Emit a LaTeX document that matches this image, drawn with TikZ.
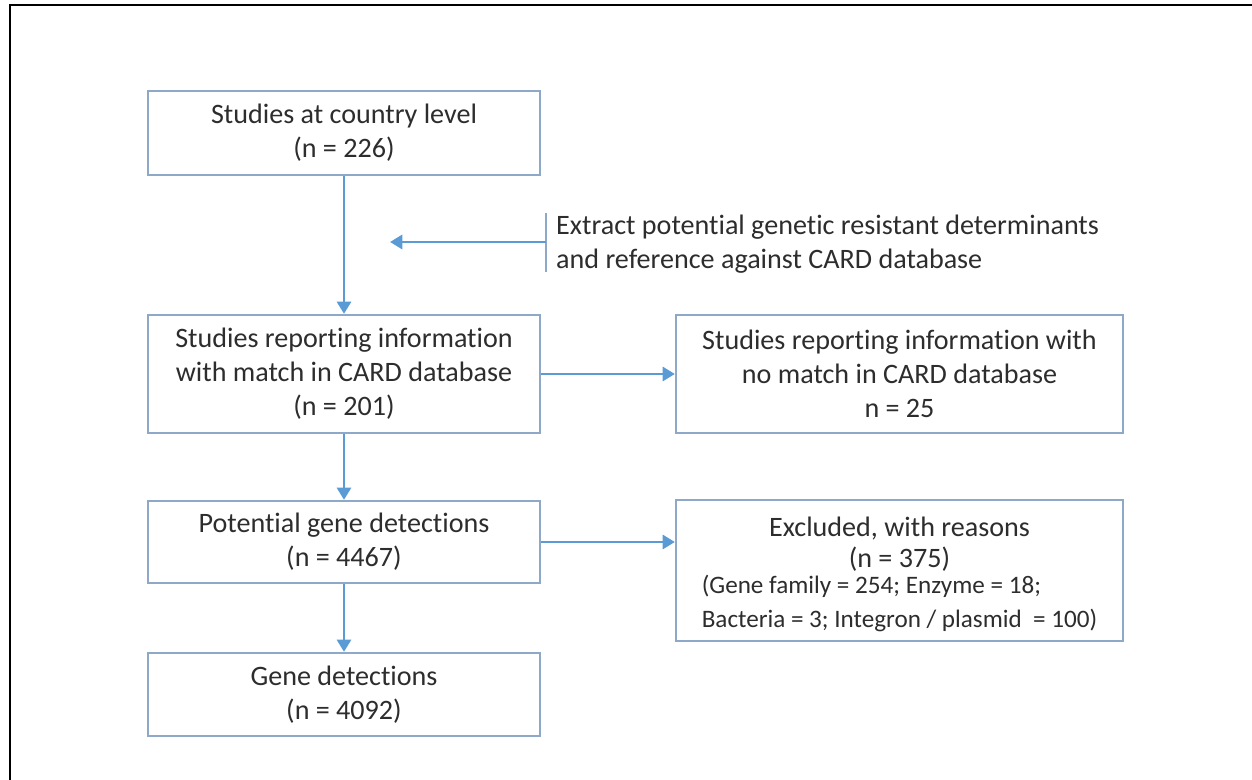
\documentclass[tikz,border=0pt]{standalone}
\usepackage{fontspec}
\setmainfont[Ligatures=NoCommon]{Carlito}
\usepackage{tikz}
\usetikzlibrary{arrows.meta}

\definecolor{boxline}{RGB}{142,169,200}
\definecolor{flowblue}{RGB}{91,155,213}
\definecolor{txtgray}{RGB}{45,45,45}

\tikzset{
  stagebox/.style={draw=boxline, line width=1.3pt, fill=white, text=txtgray,
    align=center, inner sep=2pt, font=\fontsize{16}{19.4}\selectfont},
  flowarrow/.style={draw=flowblue, line width=1.7pt,
    -{Triangle[width=8pt,length=7pt]}}
}

\begin{document}
\begin{tikzpicture}[x=0.02cm,y=-0.02cm]
        % Canvas and frame
            \useasboundingbox (0,0) rectangle (1252,780);
            \draw[line width=1.2pt] (10,780) -- (10,5) -- (1252,5);

        % Left column of boxes
            \node[stagebox, minimum width=7.84cm, minimum height=1.68cm] (country) at (344,133)
                {Studies at country level\\(n = 226)};
            \node[stagebox, minimum width=7.84cm, minimum height=2.36cm] (match) at (344,374)
                {Studies reporting information\\with match in CARD database\\(n = 201)};
            \node[stagebox, minimum width=7.84cm, minimum height=1.64cm] (potential) at (344,542)
                {Potential gene detections\\(n = 4467)};
            \node[stagebox, minimum width=7.84cm, minimum height=1.66cm] (final) at (344,694.5)
                {Gene detections\\(n = 4092)};

        % Right column of boxes
            \node[stagebox, minimum width=8.94cm, minimum height=2.36cm] (nomatch) at (899.5,374)
                {Studies reporting information with\\no match in CARD database\\n = 25};
            \node[stagebox, minimum width=8.94cm, minimum height=2.78cm] (excluded) at (899.5,570.5)
                {\rule{0pt}{19pt}Excluded, with reasons\\[-2pt](n = 375)\\[-4.5pt]
                 {\fontsize{14.3}{19.4}\selectfont\begin{tabular}[t]{@{}l@{}}(Gene family = 254; Enzyme = 18;\\
                  Bacteria = 3; Integron / plasmid~ = 100)\end{tabular}}};

        % Side note
            \coordinate (notebar) at (546,242);
            \coordinate (notetip) at (390,242);
            \draw[boxline, line width=1pt] (546,213) -- (546,272);
            \node[anchor=west, text=txtgray, align=left, font=\fontsize{16}{19.4}\selectfont] (extract) at (550,244)
                {Extract potential genetic resistant determinants\\and reference against CARD database};

        % Arrows
            \draw[flowarrow] (country) -- (match);
            \draw[flowarrow] (notebar) -- (notetip);
            \draw[flowarrow] (match) -- (nomatch);
            \draw[flowarrow] (match) -- (potential);
            \draw[flowarrow] (potential) -- (potential -| excluded.west);
            \draw[flowarrow] (potential) -- (final);
    \end{tikzpicture}
\end{document}
